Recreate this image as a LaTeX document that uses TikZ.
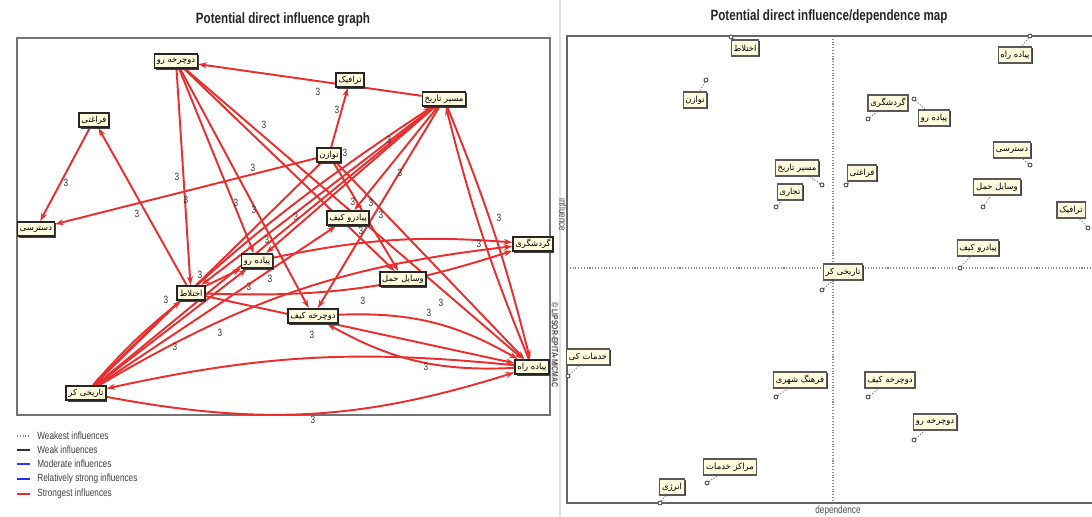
\documentclass[tikz,border=0pt]{standalone}
\usepackage{fontspec}
\setmainfont{Liberation Sans}
\newfontfamily\narrowfont[FakeStretch=0.78]{Liberation Sans}
\newfontfamily\arabicfont[Script=Arabic]{DejaVu Sans}
\TeXXeTstate=1
\usetikzlibrary{arrows.meta,backgrounds,shadows}
\definecolor{micred}{RGB}{236,45,45}
\definecolor{boxfill}{RGB}{255,252,222}
\newcommand{\fatxt}[1]{{\arabicfont\beginR #1\endR}}

\begin{document}
\begin{tikzpicture}[x=0.02cm,y=-0.02cm]
\tikzset{var/.style={draw=black!85,line width=0.9pt,fill=boxfill,inner sep=1.3pt,
    minimum height=0.29cm,font=\fontsize{4.8}{5}\selectfont,
    drop shadow={shadow xshift=0.8pt,shadow yshift=-0.8pt,fill=black!75,opacity=1}},
  mapvar/.style={var,draw=black!65,line width=0.6pt,minimum height=0.32cm},
  infl/.style={-{Stealth[length=4.8pt,width=3.4pt]},draw=micred,line width=1.1pt},
  val/.style={font=\narrowfont\fontsize{6}{7}\selectfont,text=black!80,inner sep=0pt},
  frame/.style={draw=black!55,line width=0.9pt},
  pt/.style={circle,draw=black!70,fill=white,line width=0.5pt,inner sep=0pt,minimum size=0.08cm},
  leader/.style={draw=black!50,densely dotted,line width=0.6pt},
  title/.style={font=\narrowfont\bfseries\fontsize{8.5}{10}\selectfont,text=black!85},
  legtxt/.style={font=\narrowfont\fontsize{6}{7}\selectfont,text=black!75,anchor=west,inner sep=0pt}}
\useasboundingbox (0,0) rectangle (1092,517);

% left panel: influence graph
\node[title] (t1) at (283,20) {Potential direct influence graph};
\node[var] (dr) at (176,61) {\fatxt{دوچرخه رو}};
\node[var] (tr) at (350,80) {\fatxt{ترافیک}};
\node[var] (mt) at (444,99) {\fatxt{مسیر تاریخ}};
\node[var] (fr) at (94,120) {\fatxt{فراغتی}};
\node[var] (tv) at (329,155) {\fatxt{توازن}};
\node[var] (ds) at (36,229) {\fatxt{دسترسی}};
\node[var] (pkf) at (348,218) {\fatxt{پیادرو کیف}};
\node[var] (gr) at (533,244) {\fatxt{گردشگری}};
\node[var] (pr) at (257,261) {\fatxt{پیاده رو}};
\node[var] (ek) at (191,293) {\fatxt{اختلاط}};
\node[var] (vh) at (403,279) {\fatxt{وسایل حمل}};
\node[var] (dk) at (313,316) {\fatxt{دوچرخه کیف}};
\node[var] (pk) at (532,367) {\fatxt{پیاده راه}};
\node[var] (tk) at (86,393) {\fatxt{تاریخی کر}};

\begin{pgfonlayer}{background}
\draw[frame] (17,38) rectangle (550,415);
\draw[infl] (mt) -- (dr);
\draw[infl] (tv) -- (tr);
\draw[infl] (fr) -- (ds);
\draw[infl] (ek) -- (fr);
\draw[infl] (tv) -- (ds);
\draw[infl] (dr) -- (ek);
\draw[infl] (dr) -- (pr);
\draw[infl] (dr) -- (dk);
\draw[infl] (dr) -- (vh);
\draw[infl] (dr) -- (pk);
\draw[infl] (mt) -- (tk);
\draw[infl] (mt) -- (ek);
\draw[infl] (mt) -- (pr);
\draw[infl] (mt) -- (pkf);
\draw[infl] (mt) -- (dk);
\draw[infl] (mt) to[bend left=4] (pk);
\draw[infl] (pk) to[bend left=4] (mt);
\draw[infl] (tv) -- (vh);
\draw[infl] (tv) -- (tk);
\draw[infl] (tv) -- (pk);
\draw[infl] (tk) -- (pr);
\draw[infl] (tk) -- (pkf);
\draw[infl] (tk) to[bend left=5] (ek);
\draw[infl] (tk) to[bend left=6] (mt);
\draw[infl] (tk) to[bend left=12] (gr);
\draw[infl] (tk) to[bend right=14] (pk);
\draw[infl] (pk) to[bend right=9] (tk);
\draw[infl] (pk) to[bend left=16] (dk);
\draw[infl] (dk) to[bend left=16] (pk);
\draw[infl] (ek) to[bend right=10] (gr);
\draw[infl] (pr) to[bend left=8] (gr);
\draw[infl] (ek) -- (pr);
\draw[infl] (ek) -- (pk);
\end{pgfonlayer}

\foreach \x/\y [count=\i] in {318/92,337/110,345/153,66/183,137/214,253/168,177/177,186/200,
    236/203,254/210,264/125,389/140,400/173,296/217,353/202,371/203,381/215,361/231,
    479/244,499/218,200/275,166/300,249/287,270/279,220/333,175/347,267/240,363/301,
    429/313,441/303,312/335,426/367,313/420}
  \node[val] (v\i) at (\x,\y) {3};

\node[font=\narrowfont\bfseries\fontsize{5}{6}\selectfont,text=black!70,rotate=-90] (copy) at (555,345) {© LIPSOR-EPITA-MICMAC};

% legend
\draw[black!50,densely dotted,line width=0.6pt] (17,436) -- (30,436);
\draw[black!80,line width=0.8pt] (17,450) -- (30,450);
\draw[blue!80,line width=0.8pt] (17,464) -- (30,464);
\draw[blue!85,line width=1.6pt] (17,479) -- (30,479);
\draw[micred,line width=1.6pt] (17,494) -- (30,494);
\node[legtxt] (l1) at (37,436) {Weakest influences};
\node[legtxt] (l2) at (37,450) {Weak influences};
\node[legtxt] (l3) at (37,464) {Moderate influences};
\node[legtxt] (l4) at (37,479) {Relatively strong influences};
\node[legtxt] (l5) at (37,494) {Strongest influences};

\draw[black!12,line width=0.8pt] (560,0) -- (560,517);

% right panel: influence/dependence map
\node[title] (t2) at (829,17) {Potential direct influence/dependence map};
\draw[black!45,densely dotted,line width=0.6pt] (833,36) -- (833,503);
\draw[black!45,densely dotted,line width=0.6pt] (567,268) -- (1092,268);
\draw[black!60,line width=1.1pt] (1092,36) -- (567,36) -- (567,503) -- (1092,503);
\node[font=\narrowfont\fontsize{6}{7}\selectfont,text=black!70] (dep) at (838,511) {dependence};
\node[font=\narrowfont\fontsize{6}{7}\selectfont,text=black!70,rotate=-90] (inf) at (563,215) {influence};

\foreach \px/\py/\lx/\ly/\txt [count=\i] in {731/37/745/48/اختلاط, 706/80/695/100/توازن,
    822/185/797/168/مسیر تاریخ, 776/207/790/192/تجاری, 1030/36/1015/55/پیاده راه,
    868/119/888/103/گردشگری, 914/99/934/118/پیاده رو, 1030/165/1012/150/دسترسی,
    846/185/862/173/فراغتی, 983/207/997/187/وسایل حمل, 960/268/978/248/پیادرو کیف,
    822/290/843/272/تاریخی کر, 568/376/588/357/خدمات کی, 776/397/800/380/فرهنگ شهری,
    868/397/890/380/دوچرخه کیف, 914/440/935/422/دوچرخه رو, 707/483/730/467/مراکز خدمات,
    660/503/672/487/انرژی, 1088/228/1071/210/ترافیک}
{
  \node[pt] (p\i) at (\px,\py) {};
  \node[mapvar] (m\i) at (\lx,\ly) {\fatxt{\txt}};
  \begin{pgfonlayer}{background}
    \draw[leader] (p\i) -- (m\i);
  \end{pgfonlayer}
}
\end{tikzpicture}
\end{document}
